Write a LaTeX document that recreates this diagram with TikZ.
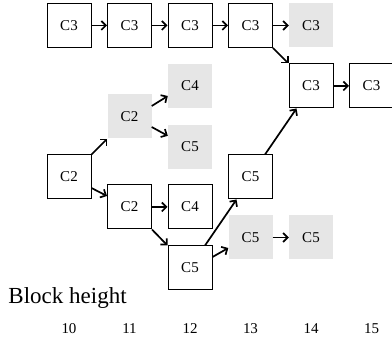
\documentclass[tikz,border=0pt]{standalone}
\usepackage{fontspec}
\setmainfont{Liberation Serif}
\usetikzlibrary{arrows.meta}
\definecolor{lightgr}{HTML}{E6E6E6}
\tikzset{
  blk/.style={draw, line width=1pt, minimum size=44pt, inner sep=0pt, font=\fontsize{15}{18}\selectfont},
  gblk/.style={fill=lightgr, minimum size=44pt, inner sep=0pt, font=\fontsize{15}{18}\selectfont},
  arr/.style={line width=1.7pt, -{Straight Barb[length=4.5pt,width=9pt]}},
  num/.style={font=\fontsize{15}{18}\selectfont},
}
\begin{document}
\begin{tikzpicture}[x=1pt,y=-1pt]
\useasboundingbox (0,0) rectangle (392,345);
% columns
\def\ca{69}\def\cb{129.5}\def\cc{190}\def\cd{250.5}\def\ce{311}\def\cf{371.5}
% top row
\node[blk]  (a1) at (\ca,25.5) {C3};
\node[blk]  (a2) at (\cb,25.5) {C3};
\node[blk]  (a3) at (\cc,25.5) {C3};
\node[blk]  (a4) at (\cd,25.5) {C3};
\node[gblk] (a5) at (\ce,25.5) {C3};
\node[blk]  (b1) at (\ce,86) {C3};
\node[blk]  (b2) at (\cf,86) {C3};
\node[gblk] (g4) at (\cc,86) {C4};
\node[gblk] (g2) at (\cb,116.5) {C2};
\node[gblk] (g5) at (\cc,146.8) {C5};
\node[blk]  (d1) at (\ca,177) {C2};
\node[blk]  (e5) at (\cd,177) {C5};
\node[blk]  (d2) at (\cb,207) {C2};
\node[blk]  (d4) at (\cc,207) {C4};
\node[gblk] (h5) at (\cd,237.5) {C5};
\node[gblk] (h6) at (\ce,237.5) {C5};
\node[blk]  (f5) at (\cc,268) {C5};
% arrows
\draw[arr] (a1) -- (a2);
\draw[arr] (a2) -- (a3);
\draw[arr] (a3) -- (a4);
\draw[arr] (a4) -- (a5);
\draw[arr] (a4.south east) -- (b1.north west);
\draw[arr] (b1) -- (b2);
\draw[arr] (d1.north east) -- (g2.south west);
\draw[arr] ([yshift=10.5pt]g2.east) -- ([yshift=-10pt]g4.west);
\draw[arr] ([yshift=-10.5pt]g2.east) -- ([yshift=11pt]g5.west);
\draw[arr] ([yshift=-11pt]d1.east) -- ([yshift=11pt]d2.west);
\draw[arr] (d2) -- (d4);
\draw[arr] (d2.south east) -- (f5.north west);
\draw[arr] ([xshift=15pt]f5.north) -- ([xshift=-14pt]e5.south);
\draw[arr] ([yshift=11pt]f5.east) -- ([yshift=-10.5pt]h5.west);
\draw[arr] (h5) -- (h6);
\draw[arr] ([xshift=14.5pt]e5.north) -- ([xshift=-14.5pt]b1.south);
% labels
\node[anchor=base west, inner sep=0pt, font=\fontsize{23}{27}\selectfont] (bh) at (8.3,304) {Block height};
\node[num] (n10) at (\ca,328.7) {10};
\node[num] (n11) at (\cb,328.7) {11};
\node[num] (n12) at (\cc,328.7) {12};
\node[num] (n13) at (\cd,328.7) {13};
\node[num] (n14) at (\ce,328.7) {14};
\node[num] (n15) at (\cf,328.7) {15};
\end{tikzpicture}
\end{document}
